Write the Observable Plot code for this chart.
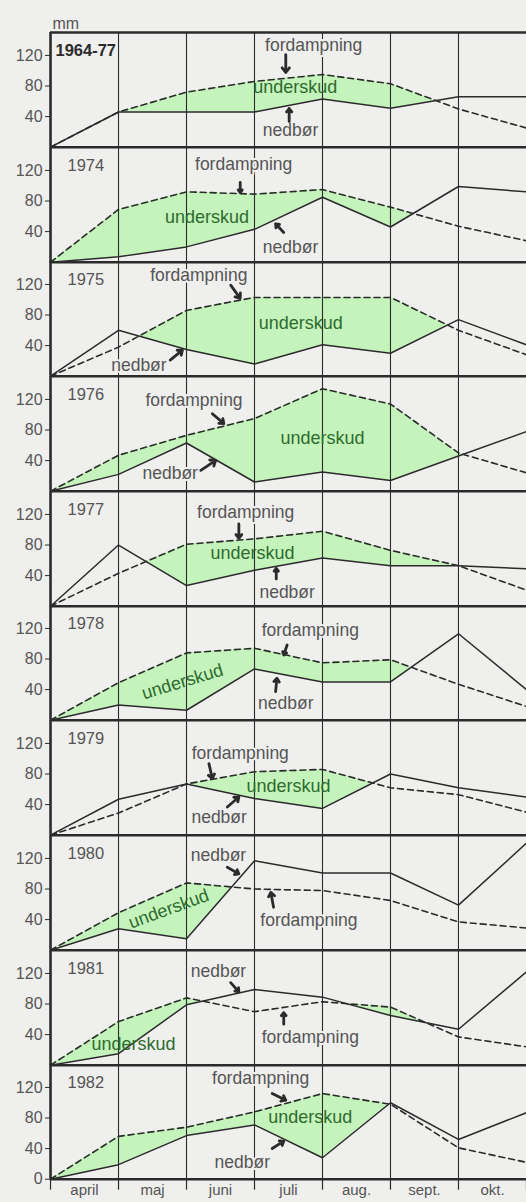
<!DOCTYPE html>
<html>
<head>
<meta charset="utf-8">
<script src="https://cdn.jsdelivr.net/npm/d3@7"></script>
<script src="https://cdn.jsdelivr.net/npm/@observablehq/plot@0.6"></script>
<style>
  body { margin: 0; background: #efefed; width: 526px; overflow: hidden; font-family: "Liberation Sans", Arial, sans-serif; }
  #chart svg { display: block; }
</style>
</head>
<body>
<div id="chart"></div>
<script>
// ---------- data ----------
const months = ["april", "maj", "juni", "juli", "aug.", "sept.", "okt."];
const boundaries = [0, 1, 2, 3, 4, 5, 6, 7]; // month boundaries (start of April ... end of October)
const years = ["1964-77", "1974", "1975", "1976", "1977", "1978", "1979", "1980", "1981", "1982"];

// nedbør (precipitation, mm) at each month boundary
const nedbor = [
  [0, 46, 46, 46, 63, 51, 66, 66],
  [0, 7, 20, 43, 85, 46, 99, 92],
  [0, 60, 35, 16, 41, 30, 74, 41],
  [0, 22, 63, 12, 25, 14, 46, 78],
  [0, 80, 27, 47, 63, 53, 53, 49],
  [0, 20, 13, 67, 50, 50, 113, 40],
  [0, 47, 67, 48, 35, 80, 62, 50],
  [0, 28, 15, 117, 101, 101, 59, 140],
  [0, 15, 79, 99, 89, 65, 47, 122],
  [0, 19, 57, 71, 28, 100, 52, 87]
];
// fordampning (evaporation, mm)
const fordampning = [
  [0, 46, 72, 86, 95, 83, 50, 25],
  [0, 69, 92, 89, 95, 72, 47, 28],
  [0, 38, 86, 103, 103, 103, 60, 28],
  [0, 47, 73, 95, 134, 114, 50, 24],
  [0, 43, 81, 88, 98, 73, 53, 21],
  [0, 49, 88, 94, 75, 79, 47, 18],
  [0, 29, 67, 83, 86, 62, 53, 30],
  [0, 49, 88, 80, 78, 65, 37, 29],
  [0, 57, 88, 70, 83, 76, 37, 24],
  [0, 56, 68, 88, 112, 98, 41, 22]
];
const yTicks = [40, 80, 120];

// annotation anchors (data units: x = month boundary index, y = mm)
const fordLabel = [[3.87,133],[2.84,128.3],[2.18,132.2],[2.11,118.7],[2.87,122.7],[3.82,118],[2.79,106.7],[3.8,38.7],[3.82,36.1],[3.09,131.7]];
const nedLabel = [[3.53,21.8],[3.53,19.2],[1.30,14.5],[1.76,22.9],[3.48,18],[3.46,22.1],[2.48,23.8],[2.47,123.7],[2.47,123.3],[2.82,22.6]];
const underLabel = [[3.6,78],[2.30,58.5],[3.68,69],[4.0,68.7],[2.97,69.6],[1.94,50.3],[3.5,64],[1.74,54],[1.22,27.5],[3.82,81.5]];
const underRotate = [0, 0, 0, 0, 0, -17, 0, -20, 0, 0];
const fordArrow = [[3.46,121,3.46,97.7],[2.79,104.2,2.79,91.1],[2.65,119.1,2.79,101.7],[2.38,101.3,2.55,88.3],[2.77,107.5,2.77,88.7],[3.48,98.3,3.43,85.3],[2.33,93.6,2.38,74],[3.28,56.1,3.24,75.7],[3.43,53.6,3.43,68.8],[3.26,112,3.46,103.3]];
const nedArrow = [[3.51,33.6,3.51,50.6],[3.43,38.8,3.31,50.2],[1.76,21.1,1.94,34.1],[2.21,27.2,2.43,40.3],[3.32,35.6,3.32,49.4],[3.31,37.3,3.33,54.8],[2.6,36.9,2.77,50],[2.6,108.4,2.77,99.8],[2.65,108,2.77,95.9],[3.26,40.1,3.43,49.7]];

// ---------- style ----------
const BG = "#efefed", INK = "#2b2b2b", GREY = "#555", GREEN = "#c4f3bb", GREEN_TEXT = "#2e6b2e";
const FONT = "Liberation Sans, Arial, sans-serif";
const PANEL_H = 114.7, TOP = 32, BOTTOM = 23;

const chart = document.getElementById("chart");

years.forEach((yr, k) => {
  const first = k === 0, last = k === years.length - 1;
  const pts = boundaries.map((x, i) => ({x, n: nedbor[k][i], f: fordampning[k][i]}));
  // deficit band: between precipitation and evaporation where evaporation exceeds it
  const band = [];
  pts.forEach((a, i) => {
    band.push({x: a.x, y1: a.n, y2: Math.max(a.n, a.f)});
    const b = pts[i + 1];
    if (b) {
      const da = a.f - a.n, db = b.f - b.n;
      if (da * db < 0) {
        const t = da / (da - db);
        const yc = a.n + t * (b.n - a.n);
        band.push({x: a.x + t * (b.x - a.x), y1: yc, y2: yc});
      }
    }
  });

  const fa = fordArrow[k], na = nedArrow[k];
  const marks = [
    Plot.areaY(band, {x: "x", y1: "y1", y2: "y2", fill: GREEN}),
    Plot.ruleX(boundaries.slice(1, -1), {stroke: INK, strokeWidth: 1.1}),
    Plot.line(pts, {x: "x", y: "f", stroke: INK, strokeWidth: 1.6, strokeDasharray: "6,4"}),
    Plot.line(pts, {x: "x", y: "n", stroke: INK, strokeWidth: 1.5}),
    Plot.ruleX([0], {stroke: INK, strokeWidth: 2.6}),
    Plot.ruleY([0], {stroke: INK, strokeWidth: 2.6}),
    Plot.axisY(last ? [0, ...yTicks] : yTicks, {tickSize: 5, tickPadding: 3, fontSize: 16, color: GREY, stroke: INK, label: null, fontFamily: FONT}),
    Plot.text([yr], {frameAnchor: "top-left", dx: first ? 5 : 17, dy: 12, textAnchor: "start", fontSize: 16.5, fontWeight: first ? "bold" : "normal", fill: first ? INK : GREY, fontFamily: FONT}),
    Plot.text(["fordampning"], {x: fordLabel[k][0], y: fordLabel[k][1], fontSize: 17.5, fill: GREY, stroke: BG, strokeWidth: 4, fontFamily: FONT}),
    Plot.text(["nedbør"], {x: nedLabel[k][0], y: nedLabel[k][1], fontSize: 17.5, fill: GREY, stroke: BG, strokeWidth: 4, fontFamily: FONT}),
    Plot.text(["underskud"], {x: underLabel[k][0], y: underLabel[k][1], rotate: underRotate[k], fontSize: 18, fill: GREEN_TEXT, fontFamily: FONT}),
    Plot.arrow([fa], {x1: d => d[0], y1: d => d[1], x2: d => d[2], y2: d => d[3], stroke: INK, strokeWidth: 2.8, headLength: 7, headAngle: 75}),
    Plot.arrow([na], {x1: d => d[0], y1: d => d[1], x2: d => d[2], y2: d => d[3], stroke: INK, strokeWidth: 2.8, headLength: 7, headAngle: 75})
  ];
  if (first) {
    marks.push(Plot.ruleY([150], {stroke: INK, strokeWidth: 2.6}));
    marks.push(Plot.text(["mm"], {frameAnchor: "top-left", dx: 2, dy: -15, fontSize: 16, fill: GREY, fontFamily: FONT}));
  }
  if (last) {
    marks.push(Plot.axisX(boundaries, {tickSize: 11, tickFormat: () => "", stroke: INK, strokeWidth: 1.2, label: null}));
    marks.push(Plot.axisX(months.map((m, i) => i + 0.5), {tickSize: 0, tickPadding: 5, fontSize: 15, color: GREY, fontFamily: FONT, tickFormat: d => months[Math.floor(d)], label: null}));
  }

  const svg = Plot.plot({
    width: 526,
    height: PANEL_H + (first ? TOP : 0) + (last ? BOTTOM : 0),
    marginLeft: 50,
    marginRight: 0,
    marginTop: first ? TOP : 0,
    marginBottom: last ? BOTTOM : 0,
    style: {background: "transparent", overflow: "visible", fontFamily: FONT},
    x: {domain: [0, 7], label: null, ...(last ? {} : {axis: null})},
    y: {domain: [0, 150], label: null},
    marks
  });
  chart.appendChild(svg);
});
</script>
</body>
</html>
